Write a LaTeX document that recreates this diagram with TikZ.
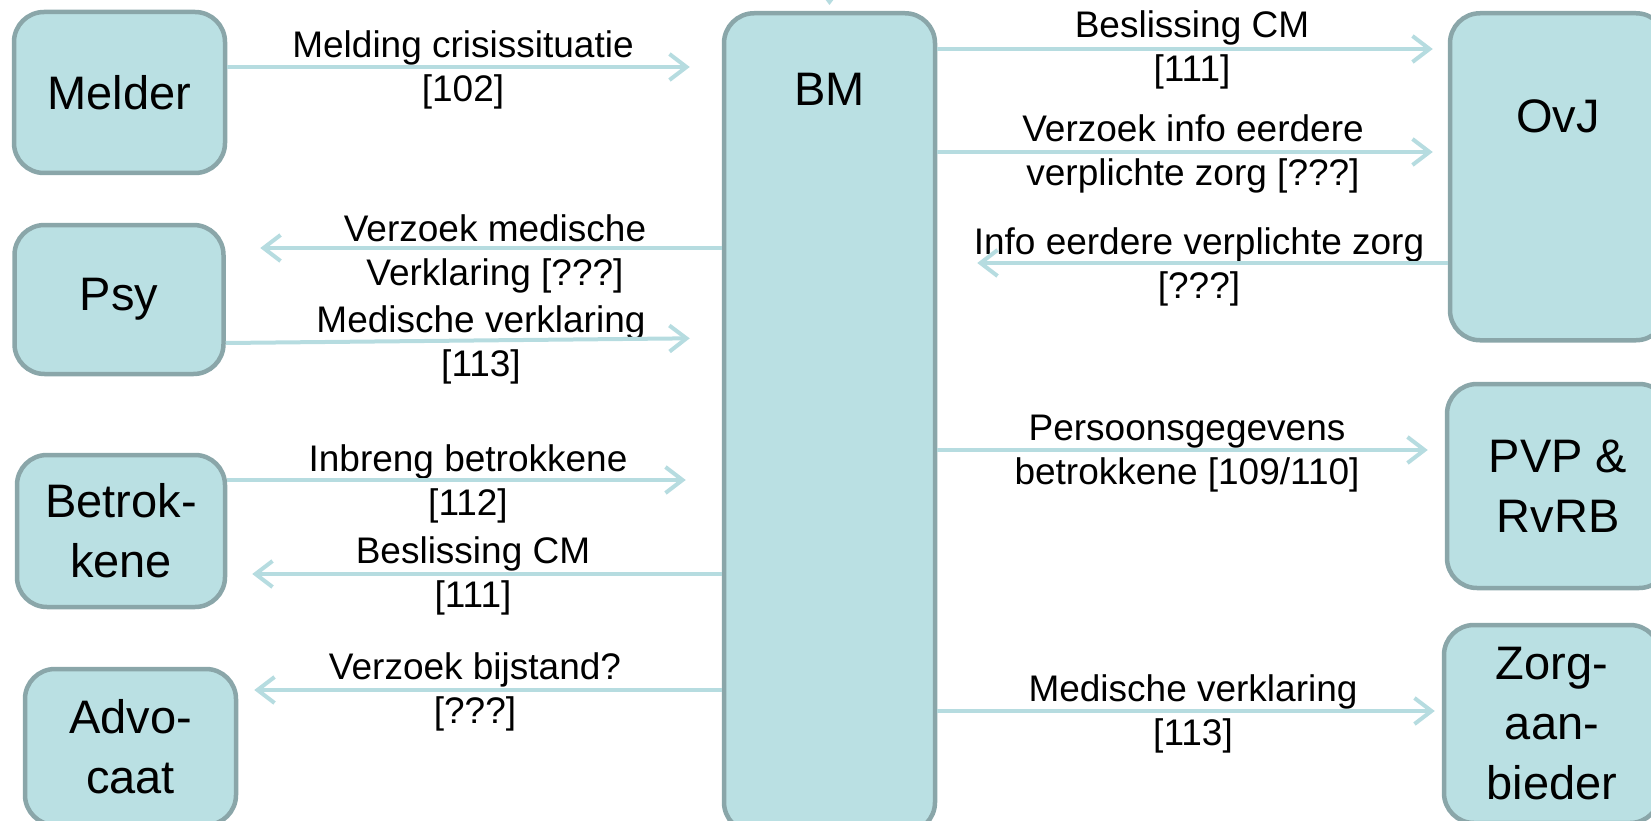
\documentclass[tikz,border=0pt]{standalone}
\usepackage{fontspec}
\setmainfont{Liberation Sans}
\usetikzlibrary{arrows.meta}
\definecolor{boxfill}{RGB}{186,224,227}
\definecolor{boxline}{RGB}{138,166,169}
\definecolor{flowline}{RGB}{182,220,224}

\begin{document}
\begin{tikzpicture}[x=1pt, y=-1pt,
    actor/.style={rectangle, rounded corners=30pt, draw=boxline, line width=4.5pt, fill=boxfill, align=center, inner sep=0pt, font=\fontsize{47pt}{60pt}\selectfont},
    msg/.style={align=center, inner sep=0pt, font=\fontsize{37pt}{44pt}\selectfont},
    flow/.style={draw=flowline, line width=4pt, -{Straight Barb[length=17pt,width=26pt]}}]
    \useasboundingbox (0,0) rectangle (1651,821);

    \node[actor, minimum width=211pt, minimum height=161pt] (Melder) at (119.5,92.5) {Melder};
    \node[actor, minimum width=209pt, minimum height=149pt] (Psy) at (119,299.5) {Psy};
    \node[actor, minimum width=208pt, minimum height=152pt] (Betrokkene) at (121,531) {Betrok-\\kene};
    \node[actor, minimum width=211pt, minimum height=156pt] (Advocaat) at (130.5,747) {Advo-\\caat};
    \node[actor, anchor=north, minimum width=211pt, text height=92pt, text depth=727pt] (BM) at (829.5,11) {BM};
    \node[actor, anchor=north, minimum width=216pt, text height=119pt, text depth=208pt] (OvJ) at (1558,11) {OvJ};
    \node[actor, minimum width=222pt, minimum height=204pt] (PVP) at (1558,486) {PVP \&\\RvRB};
    \node[actor, minimum width=216pt, minimum height=198pt] (Zorg) at (1552,724) {Zorg-\\aan-\\bieder};

    \node[msg] (mMelding) at (463,70) {Melding crisissituatie\\{[102]}};
    \node[msg] (mVerzoekMed) at (495,254) {Verzoek medische\\Verklaring [???]};
    \node[msg] (mMedPsy) at (481,345) {Medische verklaring\\{[113]}};
    \node[msg] (mInbreng) at (468,484) {Inbreng betrokkene\\{[112]}};
    \node[msg] (mBeslBetr) at (473,576) {Beslissing CM\\{[111]}};
    \node[msg] (mBijstand) at (475,692) {Verzoek bijstand?\\{[???]}};
    \node[msg] (mBeslOvJ) at (1192,50) {Beslissing CM\\{[111]}};
    \node[msg] (mVerzoekInfo) at (1193,154) {Verzoek info eerdere\\verplichte zorg [???]};
    \node[msg] (mInfo) at (1199,267) {Info eerdere verplichte zorg\\{[???]}};
    \node[msg] (mPersoons) at (1187,454) {Persoonsgegevens\\betrokkene [109/110]};
    \node[msg] (mMedZorg) at (1193,714) {Medische verklaring\\{[113]}};

    \coordinate (bmin) at (829.5,-60);
    \draw[flow, shorten >=6pt] (bmin) -- (BM.north);
    \draw[flow, shorten >=32pt] (Melder.east |- 0,67) -- (BM.west |- 0,67);
    \draw[flow, shorten >=34.5pt] (BM.west |- 0,248) -- (Psy.east |- 0,248);
    \draw[flow, shorten >=32pt] (Psy.east |- 0,343) -- (BM.west |- 0,338);
    \draw[flow, shorten >=36pt] (Betrokkene.east |- 0,480) -- (BM.west |- 0,480);
    \draw[flow, shorten >=25pt] (BM.west |- 0,574) -- (Betrokkene.east |- 0,574);
    \draw[flow, shorten >=16pt] (BM.west |- 0,690) -- (Advocaat.east |- 0,690);
    \draw[flow, shorten >=15pt] (BM.east |- 0,49) -- (OvJ.west |- 0,49);
    \draw[flow, shorten >=15pt] (BM.east |- 0,152) -- (OvJ.west |- 0,152);
    \draw[flow, shorten >=40pt] (OvJ.west |- 0,263) -- (BM.east |- 0,263);
    \draw[flow, shorten >=17pt] (BM.east |- 0,450) -- (PVP.west |- 0,450);
    \draw[flow, shorten >=7pt] (BM.east |- 0,711) -- (Zorg.west |- 0,711);
\end{tikzpicture}
\end{document}
